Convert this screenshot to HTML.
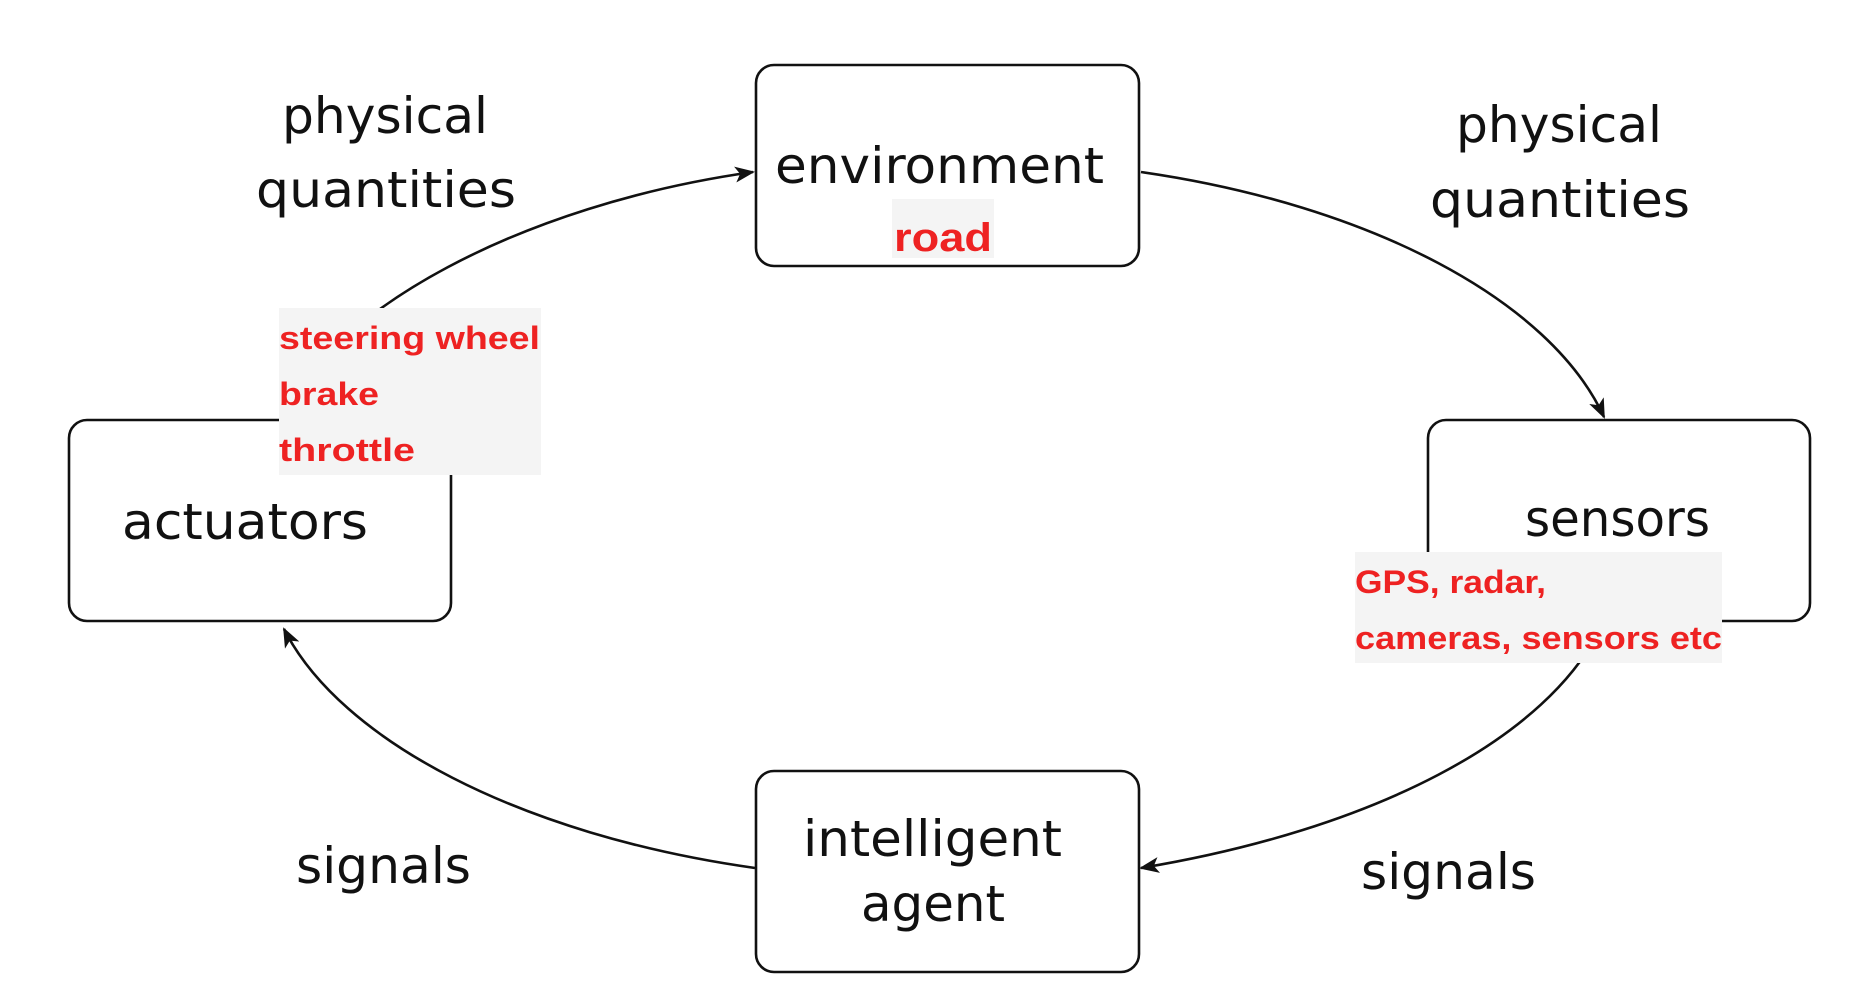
<!DOCTYPE html>
<html><head><meta charset="utf-8"><style>
html,body{margin:0;padding:0;background:#fff;}
svg{display:block;}
.t{font-family:"DejaVu Sans","Liberation Sans",sans-serif;font-size:50px;fill:#111;}
.r{font-family:"Liberation Sans",sans-serif;font-weight:bold;font-size:32px;fill:#ee2222;}
</style></head><body>
<svg width="1856" height="1000" viewBox="0 0 1856 1000" xmlns="http://www.w3.org/2000/svg">
<defs>
<marker id="a" viewBox="0 0 20 16" refX="18" refY="8" markerWidth="20" markerHeight="16" markerUnits="userSpaceOnUse" orient="auto">
<path d="M0,0 L20,8 L0,16 L5,8 Z" fill="#111"/>
</marker>
</defs>
<g fill="none" stroke="#111" stroke-width="2.6">
<path d="M280,420 C330,310 520,205 753,172" marker-end="url(#a)"/>
<path d="M1141,172 C1370,205 1550,300 1604,417" marker-end="url(#a)"/>
<path d="M1604,621 C1550,740 1370,830 1141,868" marker-end="url(#a)"/>
<path d="M755,868 C520,835 340,740 284,629" marker-end="url(#a)"/>
<rect x="756" y="65" width="383" height="201" rx="18"/>
<rect x="1428" y="420" width="382" height="201" rx="18"/>
<rect x="69" y="420" width="382" height="201" rx="18"/>
<rect x="756" y="771" width="383" height="201" rx="18"/>
</g>
<rect x="892" y="199" width="102" height="59" fill="#f4f4f4"/>
<rect x="279" y="308" width="262" height="167" fill="#f4f4f4"/>
<rect x="1355" y="552" width="367" height="111" fill="#f4f4f4"/>
<text class="t" x="775" y="183" textLength="329" lengthAdjust="spacingAndGlyphs">environment</text>
<text class="r" x="894" y="251" textLength="98" lengthAdjust="spacingAndGlyphs" style="font-size:40px">road</text>
<text class="t" x="282" y="133" textLength="206" lengthAdjust="spacingAndGlyphs">physical</text>
<text class="t" x="256" y="207" textLength="260" lengthAdjust="spacingAndGlyphs">quantities</text>
<text class="t" x="1456" y="142" textLength="206" lengthAdjust="spacingAndGlyphs">physical</text>
<text class="t" x="1430" y="217" textLength="260" lengthAdjust="spacingAndGlyphs">quantities</text>
<text class="t" x="1525" y="536" textLength="185" lengthAdjust="spacingAndGlyphs">sensors</text>
<text class="t" x="122" y="539" textLength="246" lengthAdjust="spacingAndGlyphs">actuators</text>
<text class="t" x="803" y="856" textLength="259" lengthAdjust="spacingAndGlyphs">intelligent</text>
<text class="t" x="861" y="921" textLength="144" lengthAdjust="spacingAndGlyphs">agent</text>
<text class="t" x="296" y="883" textLength="175" lengthAdjust="spacingAndGlyphs">signals</text>
<text class="t" x="1361" y="889" textLength="175" lengthAdjust="spacingAndGlyphs">signals</text>
<text class="r" x="279" y="349" textLength="261" lengthAdjust="spacingAndGlyphs">steering wheel</text>
<text class="r" x="279" y="405" textLength="100" lengthAdjust="spacingAndGlyphs">brake</text>
<text class="r" x="279" y="461" textLength="136" lengthAdjust="spacingAndGlyphs">throttle</text>
<text class="r" x="1355" y="593" textLength="191" lengthAdjust="spacingAndGlyphs">GPS, radar,</text>
<text class="r" x="1355" y="649" textLength="367" lengthAdjust="spacingAndGlyphs">cameras, sensors etc</text>
</svg>
</body></html>
